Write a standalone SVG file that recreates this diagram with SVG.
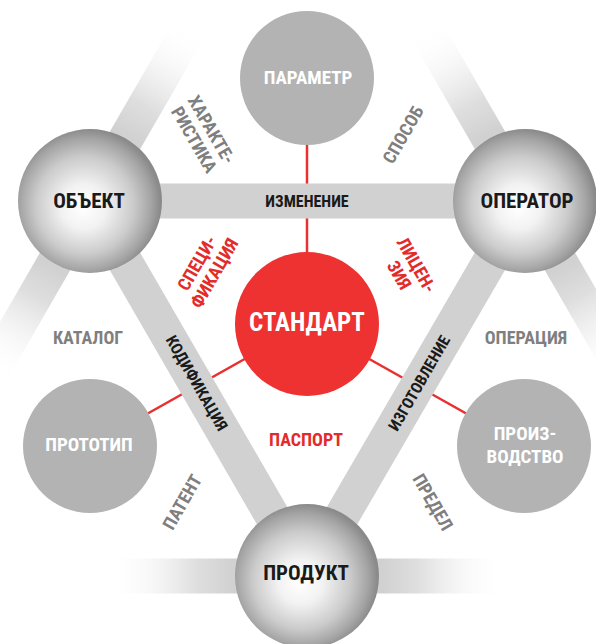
<svg xmlns="http://www.w3.org/2000/svg" width="596" height="644" viewBox="0 0 596 644">
  <defs>
    <radialGradient id="sphere" cx="0.47" cy="0.52" r="0.52" fx="0.45" fy="0.55">
      <stop offset="0" stop-color="#ffffff"/>
      <stop offset="0.3" stop-color="#f2f2f2"/>
      <stop offset="0.65" stop-color="#cbcbcb"/>
      <stop offset="0.88" stop-color="#a4a4a4"/>
      <stop offset="1" stop-color="#8a8a8a"/>
    </radialGradient>
    <linearGradient id="fade" x1="0" y1="0" x2="1" y2="0">
      <stop offset="0" stop-color="#d1d1d1"/>
      <stop offset="0.38" stop-color="#d1d1d1"/>
      <stop offset="0.55" stop-color="#d6d6d6" stop-opacity="0.8"/>
      <stop offset="0.8" stop-color="#e6e6e6" stop-opacity="0.25"/>
      <stop offset="1" stop-color="#ffffff" stop-opacity="0"/>
    </linearGradient>
    <style>
      text { font-family: "Liberation Sans Narrow", "Arial Narrow", "Roboto Condensed", "Liberation Sans", sans-serif; font-weight: bold; text-anchor: middle; }
      .band { stroke: #d1d1d1; stroke-width: 35; fill: none; }
      .red { stroke: #e8312f; stroke-width: 2.5; fill: none; }
      .gray { fill: #b3b3b3; }
      .sph { fill: url(#sphere); }
      .lbl { font-size: 18px; fill: #7f7f7f; }
      .rlbl { font-size: 18px; fill: #e32b2b; }
      .blbl { font-size: 16px; fill: #1a1a1a; }
      .big { font-size: 21px; fill: #1a1a1a; }
      .wht { font-size: 19px; fill: #ffffff; }
    </style>
  </defs>
  <rect width="596" height="644" fill="#ffffff"/>

  <g id="connectors">
    <line class="red" x1="307" y1="324" x2="307" y2="78"/>
    <line class="red" x1="307" y1="324" x2="90" y2="446"/>
    <line class="red" x1="307" y1="324" x2="524" y2="446"/>
    <line class="band" x1="90" y1="201" x2="525" y2="201"/>
    <line class="band" x1="90" y1="201" x2="307" y2="576"/>
    <line class="band" x1="525" y1="201" x2="307" y2="576"/>
    <rect x="0" y="-17.5" width="200" height="35" fill="url(#fade)" transform="translate(90,201) rotate(-60)"/>
    <rect x="0" y="-17.5" width="200" height="35" fill="url(#fade)" transform="translate(90,201) rotate(120)"/>
    <rect x="0" y="-17.5" width="200" height="35" fill="url(#fade)" transform="translate(525,201) rotate(-120)"/>
    <rect x="0" y="-17.5" width="200" height="35" fill="url(#fade)" transform="translate(525,201) rotate(60)"/>
    <rect x="0" y="-17.5" width="200" height="35" fill="url(#fade)" transform="translate(307,576) rotate(180)"/>
    <rect x="0" y="-17.5" width="200" height="35" fill="url(#fade)" transform="translate(307,576)"/>
    <text class="blbl" x="307" y="207">ИЗМЕНЕНИЕ</text>
    <text class="blbl" transform="translate(197,383) rotate(60)" y="5.8">КОДИФИКАЦИЯ</text>
    <text class="blbl" transform="translate(419,383) rotate(-60)" y="5.8">ИЗГОТОВЛЕНИЕ</text>
  </g>

  <g id="parametr">
    <circle class="gray" cx="307" cy="78" r="67"/>
    <text class="wht" x="308" y="84">ПАРАМЕТР</text>
  </g>
  <g id="prototip">
    <circle class="gray" cx="90" cy="446" r="67"/>
    <text class="wht" x="89" y="451">ПРОТОТИП</text>
  </g>
  <g id="proizvodstvo">
    <circle class="gray" cx="524" cy="446" r="67"/>
    <text class="wht" x="525" y="440">ПРОИЗ-</text>
    <text class="wht" x="525" y="463">ВОДСТВО</text>
  </g>
  <g id="standart">
    <circle cx="307" cy="324" r="72" fill="#ee3131"/>
    <text x="307" y="331" font-size="25" fill="#ffffff">СТАНДАРТ</text>
  </g>
  <g id="obekt">
    <circle class="sph" cx="90" cy="201" r="72"/>
    <text class="big" x="89" y="208">ОБЪЕКТ</text>
  </g>
  <g id="operator">
    <circle class="sph" cx="525" cy="201" r="72"/>
    <text class="big" x="527" y="208">ОПЕРАТОР</text>
  </g>
  <g id="produkt">
    <circle class="sph" cx="307" cy="576" r="72"/>
    <text class="big" x="306" y="580">ПРОДУКТ</text>
  </g>

  <g id="labels">
    <g transform="translate(203,134.5) rotate(60)">
      <text class="lbl" y="-3.5">ХАРАКТЕ-</text>
      <text class="lbl" y="16.5">РИСТИКА</text>
    </g>
    <text class="lbl" transform="translate(403,134.5) rotate(-60)" y="6.5">СПОСОБ</text>
    <g transform="translate(205.5,268) rotate(-60)">
      <text class="rlbl" y="-3.5">СПЕЦИ-</text>
      <text class="rlbl" y="16.5">ФИКАЦИЯ</text>
    </g>
    <g transform="translate(408,270) rotate(60)">
      <text class="rlbl" y="-3.5">ЛИЦЕН-</text>
      <text class="rlbl" y="16.5">ЗИЯ</text>
    </g>
    <text class="lbl" x="88" y="344">КАТАЛОГ</text>
    <text class="lbl" x="526" y="344">ОПЕРАЦИЯ</text>
    <text class="rlbl" x="306" y="445.5">ПАСПОРТ</text>
    <text class="lbl" transform="translate(182,502) rotate(-60)" y="6.5">ПАТЕНТ</text>
    <text class="lbl" transform="translate(433,502) rotate(60)" y="6.5">ПРЕДЕЛ</text>
  </g>
</svg>
